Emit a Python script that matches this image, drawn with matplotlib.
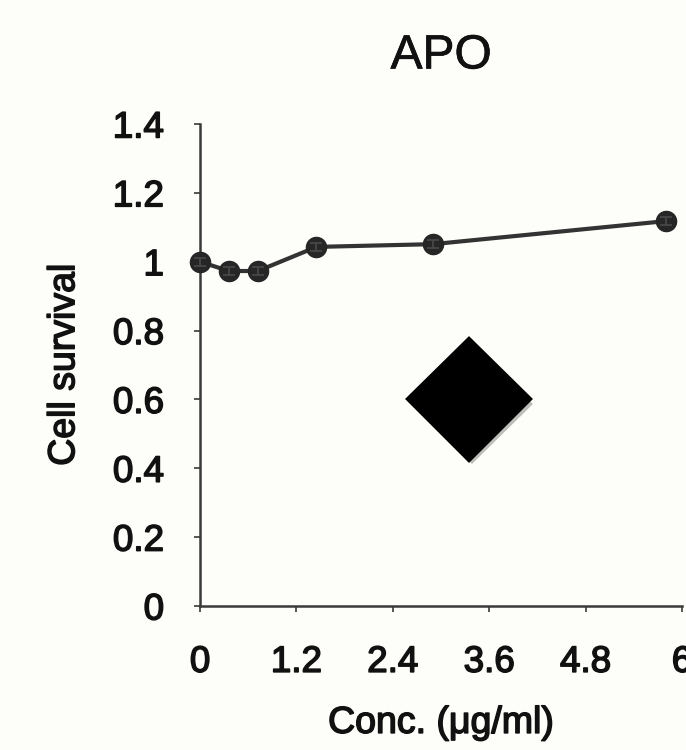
import matplotlib
matplotlib.use("Agg")
import matplotlib.pyplot as plt
import matplotlib.patheffects as pe

plt.rcParams['font.family'] = ['Liberation Sans', 'DejaVu Sans']

# Data
conc = [0, 0.36, 0.72, 1.45, 2.9, 5.8]
survival = [1.0, 0.973, 0.973, 1.043, 1.051, 1.118]
err = [0.012, 0.012, 0.012, 0.012, 0.012, 0.012]
xticks = [0, 1.2, 2.4, 3.6, 4.8, 6]
xtick_labels = ["0", "1.2", "2.4", "3.6", "4.8", "6"]
yticks = [0, 0.2, 0.4, 0.6, 0.8, 1.0, 1.2, 1.4]
ytick_labels = ["0", "0.2", "0.4", "0.6", "0.8", "1", "1.2", "1.4"]
diamond_x = [3.35]
diamond_y = [0.6]

bg = '#fdfdf9'
txt = '#111111'
thick = [pe.withStroke(linewidth=1.1, foreground=txt)]
thin = [pe.withStroke(linewidth=0.5, foreground=txt)]

fig = plt.figure(figsize=(6.86, 7.5), dpi=100, facecolor=bg)
ax = fig.add_axes([200/686, 1-606/750, 482/686, 482/750])
ax.set_facecolor(bg)

ax.plot(conc, survival, color='#333333', lw=3, marker='o', ms=14.5,
        mfc='#262626', mec='#262626', zorder=3, clip_on=False)
ax.errorbar(conc, survival, yerr=err, fmt='none', ecolor='#4a4a4a',
            elinewidth=1.2, capsize=4, capthick=1.2, zorder=4, clip_on=False)

ax.plot(diamond_x, diamond_y, marker='D', ms=62, color='black', mec='black',
        mew=3, ls='none', zorder=5,
        path_effects=[pe.SimplePatchShadow(offset=(2, -3), alpha=0.25, shadow_rgbFace='#000000'), pe.Normal()])

ax.set_xlim(0, 6)
ax.set_ylim(0, 1.4)
ax.set_xticks(xticks)
ax.set_xticklabels(xtick_labels)
ax.set_yticks(yticks)
ax.set_yticklabels(ytick_labels)

for s in ['top', 'right']:
    ax.spines[s].set_visible(False)
for s in ['left', 'bottom']:
    ax.spines[s].set_color('#3a3a3a')
    ax.spines[s].set_linewidth(1.8)

ax.tick_params(axis='y', direction='out', length=4, width=1.2, color='#3a3a3a',
               pad=22, labelsize=26.5, labelcolor=txt)
ax.tick_params(axis='x', direction='out', length=4, width=1.2, color='#3a3a3a',
               pad=24, labelsize=26.5, labelcolor=txt)
for lab in ax.get_xticklabels() + ax.get_yticklabels():
    lab.set_path_effects(thick)

ax.set_title('APO', fontsize=34.5, pad=40, color=txt, path_effects=thin)
ax.set_xlabel('Conc. (μg/ml)', fontsize=27, labelpad=18, color=txt, path_effects=thick)
ax.set_ylabel('Cell survival', fontsize=27, labelpad=22, color=txt, path_effects=thick)

fig.savefig('out.png', dpi=100, facecolor=bg)
